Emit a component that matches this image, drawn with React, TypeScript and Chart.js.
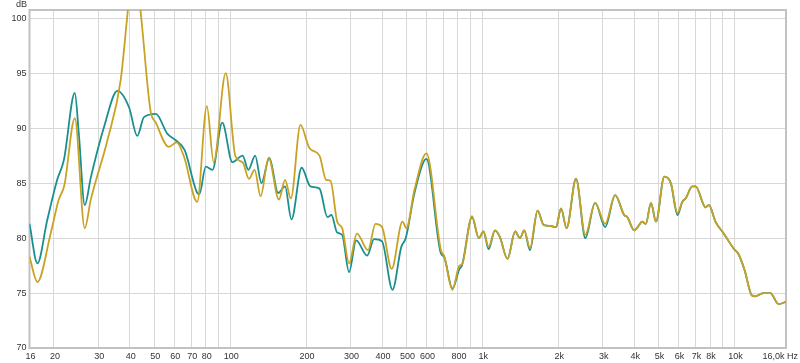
import React, { useEffect, useRef } from "react";
import { Chart, registerables } from "chart.js";

Chart.register(...registerables);

// ---- Data (frequency in Hz, level in dB) ----
const tealFreq = [
  16, 17.2, 18.8, 20.6, 21.9, 24.2, 25.1, 26.5, 28.0, 31.6, 35.7, 39.7, 42.8, 45.5, 50.7, 56.3, 60.8, 66,
  74.1, 75.5, 80, 85, 93, 102, 112, 118, 125.6, 133, 143, 155, 165, 175, 192, 208, 226, 243, 252, 265.7,
  278, 296, 316, 349, 372, 400, 440, 477, 497, 538, 600, 685, 705, 761, 811, 830, 910, 968, 1010, 1059,
  1122, 1173, 1258, 1349, 1410, 1466, 1544, 1656, 1749, 1870, 1960, 2051, 2158, 2352, 2560, 2800, 3070,
  3362, 3650, 3760, 4000, 4190, 4296, 4450, 4662, 4880, 5266, 5590, 5940, 6210, 6400, 6800, 7010, 7680,
  7920, 8400, 9070, 9960, 10340, 10960, 11700, 12060, 13000, 13860, 14960, 16000,
];
const tealDb = [
  81.3, 77.7, 81.6, 85.3, 87.1, 93.2, 89.5, 83.0, 85.5, 90.1, 93.4, 91.9, 89.3, 91.0, 91.3, 89.5, 88.9, 88.0,
  84.1, 84.0, 86.5, 86.2, 90.5, 86.9, 87.5, 86.2, 87.5, 85.0, 87.3, 84.1, 84.7, 81.7, 86.4, 84.7, 84.5, 81.9, 82.1, 80.5,
  80.3, 76.9, 79.8, 78.4, 79.9, 79.7, 75.3, 79.2, 80.0, 84.1, 87.2, 78.6, 78.3, 75.4, 77.2, 77.5, 81.9, 80.0, 80.6, 79.0,
  80.7, 80.1, 78.1, 80.6, 80.0, 80.7, 78.9, 82.5, 81.2, 81.1, 81.0, 82.7, 80.9, 85.4, 80.0, 83.2, 81.0,
  83.9, 82.1, 81.9, 80.7, 81.2, 81.5, 81.3, 83.2, 81.5, 85.6, 85.0, 82.1, 83.3, 83.6, 84.7, 84.7, 82.8,
  83.0, 81.5, 80.4, 79.0, 78.6, 77.1, 74.8, 74.7, 75.0, 75.0, 74.0, 74.2,
];

const goldFreq = [
  16, 17.2, 19.4, 20.9, 22.0, 24.2, 26.5, 28.0, 32.6, 36.8, 39.0, 41.5, 44.4, 48.3, 50.7, 57.1, 61.3, 65.6,
  74, 80.8, 86, 96, 105, 112, 118.7, 125, 132, 142, 156, 165, 174, 190, 206, 226, 240, 250, 265.7,
  278, 296, 318, 352, 377, 400, 437, 482, 500, 538, 600, 685, 705, 761, 811, 830, 910, 968, 1010, 1059,
  1122, 1173, 1258, 1349, 1410, 1466, 1544, 1656, 1749, 1870, 1960, 2051, 2158, 2352, 2560, 2800, 3070,
  3362, 3650, 3760, 4000, 4190, 4296, 4450, 4662, 4880, 5266, 5590, 5940, 6210, 6400, 6800, 7010, 7680,
  7920, 8400, 9070, 9960, 10340, 10960, 11700, 12060, 13000, 13860, 14960, 16000,
];
const goldDb = [
  78.3, 76.0, 80.4, 83.5, 84.8, 90.9, 80.9, 83.5, 88.9, 94.4, 100.0, 106.0, 100.0, 91.6, 90.5, 88.3, 88.7, 87.4,
  83.3, 92.0, 86.9, 95.0, 87.4, 86.9, 85.4, 86.2, 83.8, 87.3, 83.5, 85.3, 83.6, 90.3, 88.2, 87.5, 85.3, 85.2, 81.5,
  80.9, 77.7, 80.4, 78.9, 81.3, 81.0, 77.2, 81.5, 80.9, 84.4, 87.7, 78.9, 78.4, 75.3, 77.5, 77.6, 82.0, 80.0, 80.6, 79.2,
  80.7, 80.1, 78.1, 80.6, 80.0, 80.7, 79.1, 82.5, 81.2, 81.1, 81.0, 82.7, 80.9, 85.4, 80.3, 83.2, 81.3,
  83.9, 82.1, 81.9, 80.7, 81.2, 81.5, 81.3, 83.2, 81.5, 85.6, 85.0, 82.3, 83.3, 83.6, 84.7, 84.7, 82.8,
  83.0, 81.5, 80.4, 79.0, 78.6, 77.1, 74.8, 74.7, 75.0, 75.0, 74.0, 74.2,
];

const yTickValues = [70, 75, 80, 85, 90, 95, 100];
const xGridValues = [
  20, 30, 40, 50, 60, 70, 80, 90, 100, 200, 300, 400, 500, 600, 700, 800, 900,
  1000, 2000, 3000, 4000, 5000, 6000, 7000, 8000, 9000, 10000,
];
const xLabelValues = [
  16, 20, 30, 40, 50, 60, 70, 80, 100, 200, 300, 400, 500, 600, 800,
  1000, 2000, 3000, 4000, 5000, 6000, 7000, 8000, 10000, 16000,
];
const xLabelTexts = [
  "16", "20", "30", "40", "50", "60", "70", "80", "100", "200", "300", "400", "500", "600", "800",
  "1k", "2k", "3k", "4k", "5k", "6k", "7k", "8k", "10k", "16,0k Hz",
];
const yUnitLabel = "dB";

const FONT = "9px 'Liberation Sans', Arial, sans-serif";
const TEXT_COLOR = "#333333";
const GRID_COLOR = "#d8d8d8";
const FRAME_COLOR = "#c2c2c2";
const TEAL = "#1a8f8f";
const GOLD = "#c9a224";

const toPoints = (xs: number[], ys: number[]) => xs.map((x, i) => ({ x, y: ys[i] }));

const decorPlugin = {
  id: "decor",
  beforeDatasetsDraw(chart: any) {
    const { ctx, chartArea } = chart;
    ctx.save();
    ctx.strokeStyle = FRAME_COLOR;
    ctx.lineWidth = 2;
    ctx.strokeRect(chartArea.left, chartArea.top, chartArea.right - chartArea.left, chartArea.bottom - chartArea.top);
    ctx.restore();
  },
  afterDraw(chart: any) {
    const { ctx, chartArea } = chart;
    const xs = chart.scales.x;
    ctx.save();
    ctx.font = FONT;
    ctx.fillStyle = TEXT_COLOR;
    ctx.textBaseline = "middle";
    xLabelValues.forEach((v, i) => {
      const px = xs.getPixelForValue(v);
      const last = i === xLabelValues.length - 1;
      ctx.textAlign = last ? "right" : "center";
      ctx.fillText(xLabelTexts[i], last ? chart.width - 2 : px + 1, chartArea.bottom + 8.5);
    });
    ctx.textAlign = "right";
    ctx.textBaseline = "alphabetic";
    ctx.fillText(yUnitLabel, chartArea.left - 2.5, 7);
    ctx.restore();
  },
};

export default function App() {
  const canvasRef = useRef<HTMLCanvasElement | null>(null);

  useEffect(() => {
    document.body.style.margin = "0";
    const canvas = canvasRef.current;
    if (!canvas) return;
    const chart = new Chart(canvas, {
      type: "line",
      data: {
        datasets: [
          {
            label: "gold",
            data: toPoints(goldFreq, goldDb),
            borderColor: GOLD,
            borderWidth: 1.8,
            pointRadius: 0,
            cubicInterpolationMode: "monotone",
            fill: false,
          },
          {
            label: "teal",
            data: toPoints(tealFreq, tealDb),
            borderColor: TEAL,
            borderWidth: 1.8,
            pointRadius: 0,
            cubicInterpolationMode: "monotone",
            fill: false,
          },
        ],
      },
      plugins: [decorPlugin],
      options: {
        animation: false,
        responsive: true,
        maintainAspectRatio: false,
        parsing: false as any,
        normalized: true,
        layout: { padding: { top: 10, right: 14, bottom: 15, left: 0 } },
        plugins: {
          legend: { display: false },
          tooltip: { enabled: false },
          title: { display: false },
        },
        scales: {
          x: {
            type: "logarithmic",
            min: 16,
            max: 16000,
            afterBuildTicks: (scale: any) => {
              scale.ticks = xGridValues.map((v) => ({ value: v }));
            },
            afterFit: (scale: any) => {
              scale.height = 0;
              scale.paddingLeft = 0;
              scale.paddingRight = 0;
            },
            grid: { color: GRID_COLOR, lineWidth: 1, drawTicks: false },
            border: { display: false },
            ticks: { display: false },
          },
          y: {
            type: "linear",
            min: 70,
            max: 100.75,
            afterBuildTicks: (scale: any) => {
              scale.ticks = yTickValues.map((v) => ({ value: v }));
            },
            afterFit: (scale: any) => {
              scale.width = 29.5;
              scale.paddingTop = 0;
              scale.paddingBottom = 0;
            },
            grid: { color: GRID_COLOR, lineWidth: 1, drawTicks: false },
            border: { display: false },
            ticks: {
              font: { family: "'Liberation Sans', Arial, sans-serif", size: 9 },
              color: TEXT_COLOR,
              padding: 3,
              callback: (v: any) => String(v),
            },
          },
        },
      } as any,
    });
    return () => chart.destroy();
  }, []);

  return (
    <div style={{ position: "fixed", left: 0, top: 0, width: 800, height: 363 }}>
      <canvas ref={canvasRef} />
    </div>
  );
}
